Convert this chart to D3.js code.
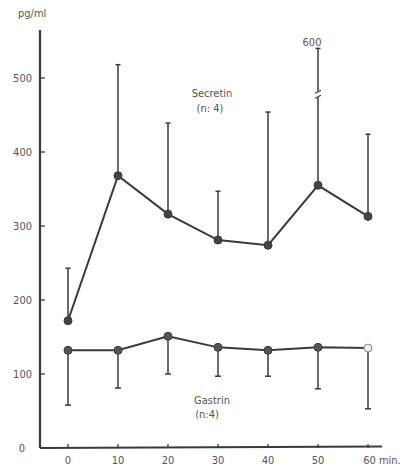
<!DOCTYPE html>
<html><head><meta charset="utf-8">
<script src="https://cdn.jsdelivr.net/npm/d3@7"></script>
<style>body{margin:0;background:#fff}svg{display:block}text{font-family:"DejaVu Sans Condensed","DejaVu Sans",sans-serif;fill:#555}</style>
</head><body>
<svg id="c" width="410" height="469"></svg>
<script>
const times = [0,10,20,30,40,50,60];
const secretin = [172,368,316,281,274,355,313];
const secretinUpper = [243,518,439,347,454,600,424];
const gastrin = [132,132,151,136,132,136,135];
const gastrinLower = [58,81,100,97,97,80,53];
const yTicks = [0,100,200,300,400,500];
const xTicks = [0,10,20,30,40,50,60];
const brokenLimit = 550;     // values above this are drawn on a broken bar
const brokenShownAt = 540;   // height where the broken bar's cap is drawn
const breakAt = 478;

const svg = d3.select("#c");
const x = d3.scaleLinear().domain([0,60]).range([68,368]);
const y = d3.scaleLinear().domain([0,500]).range([448,78]);
const ink = "#3a3a3a";

// Y axis
svg.append("line").attr("x1",40).attr("x2",40).attr("y1",y(0)).attr("y2",30).attr("stroke",ink).attr("stroke-width",2.2);
yTicks.forEach(t=>{
  svg.append("line").attr("x1",40).attr("x2",45).attr("y1",y(t)).attr("y2",y(t)).attr("stroke",ink).attr("stroke-width",1.3);
  svg.append("text").attr("x",t===0?25:32).attr("y",y(t)+4).attr("text-anchor","end").attr("font-size",11).text(t);
});
svg.append("text").attr("x",18).attr("y",17).attr("font-size",11).text("pg/ml");

// X axis
svg.append("line").attr("x1",40).attr("x2",382).attr("y1",y(0)).attr("y2",y(0)-1.5).attr("stroke",ink).attr("stroke-width",2);
xTicks.forEach((t,i)=>{
  svg.append("line").attr("x1",x(t)).attr("x2",x(t)).attr("y1",y(0)).attr("y2",y(0)-4).attr("stroke",ink).attr("stroke-width",1.3);
  svg.append("text").attr("x",x(t)).attr("y",464).attr("text-anchor","middle").attr("font-size",11).text(t===60?"60 min.":t)
     .attr("dx",t===60?14:0);
});

// Secretin error bars
times.forEach((t,i)=>{
  const broken = secretinUpper[i] > brokenLimit;
  const top = broken ? brokenShownAt : secretinUpper[i];
  svg.append("line").attr("x1",x(t)).attr("x2",x(t)).attr("y1",y(secretin[i])).attr("y2",y(top)).attr("stroke",ink).attr("stroke-width",1.5);
  svg.append("line").attr("x1",x(t)-2.5).attr("x2",x(t)+2.5).attr("y1",y(top)).attr("y2",y(top)).attr("stroke",ink).attr("stroke-width",1.5);
  if (broken) {
    const yb = y(breakAt);
    svg.append("rect").attr("x",x(t)-4).attr("y",yb-3).attr("width",8).attr("height",6).attr("fill","#fff");
    svg.append("path").attr("d",`M${x(t)-3},${yb-1}L${x(t)+3},${yb-4}M${x(t)-3},${yb+4}L${x(t)+3},${yb+1}`).attr("stroke",ink).attr("stroke-width",1.2).attr("fill","none");
    svg.append("text").attr("x",x(t)-6).attr("y",y(top)-2).attr("text-anchor","middle").attr("font-size",11).text(secretinUpper[i]);
  }
});
// Gastrin error bars
times.forEach((t,i)=>{
  svg.append("line").attr("x1",x(t)).attr("x2",x(t)).attr("y1",y(gastrin[i])).attr("y2",y(gastrinLower[i])).attr("stroke",ink).attr("stroke-width",1.5);
  svg.append("line").attr("x1",x(t)-3).attr("x2",x(t)+3).attr("y1",y(gastrinLower[i])).attr("y2",y(gastrinLower[i])).attr("stroke",ink).attr("stroke-width",1.5);
});

const line = d3.line().x((d,i)=>x(times[i])).y(d=>y(d));
svg.append("path").datum(secretin).attr("d",line).attr("fill","none").attr("stroke",ink).attr("stroke-width",2);
svg.append("path").datum(gastrin).attr("d",line).attr("fill","none").attr("stroke",ink).attr("stroke-width",2);

svg.selectAll(".sp").data(secretin).enter().append("circle").attr("cx",(d,i)=>x(times[i])).attr("cy",d=>y(d)).attr("r",4).attr("fill","#444").attr("stroke",ink);
svg.selectAll(".gp").data(gastrin).enter().append("circle").attr("cx",(d,i)=>x(times[i])).attr("cy",d=>y(d)).attr("r",4)
   .attr("fill",(d,i)=>i===gastrin.length-1?"#eee":"#555").attr("stroke",(d,i)=>i===gastrin.length-1?"#888":ink);

svg.append("text").attr("x",212).attr("y",97).attr("text-anchor","middle").attr("font-size",11).text("Secretin");
svg.append("text").attr("x",210).attr("y",112).attr("text-anchor","middle").attr("font-size",11).text("(n: 4)");
svg.append("text").attr("x",212).attr("y",404).attr("text-anchor","middle").attr("font-size",11).text("Gastrin");
svg.append("text").attr("x",207).attr("y",418).attr("text-anchor","middle").attr("font-size",11).text("(n:4)");
</script>
</body></html>
